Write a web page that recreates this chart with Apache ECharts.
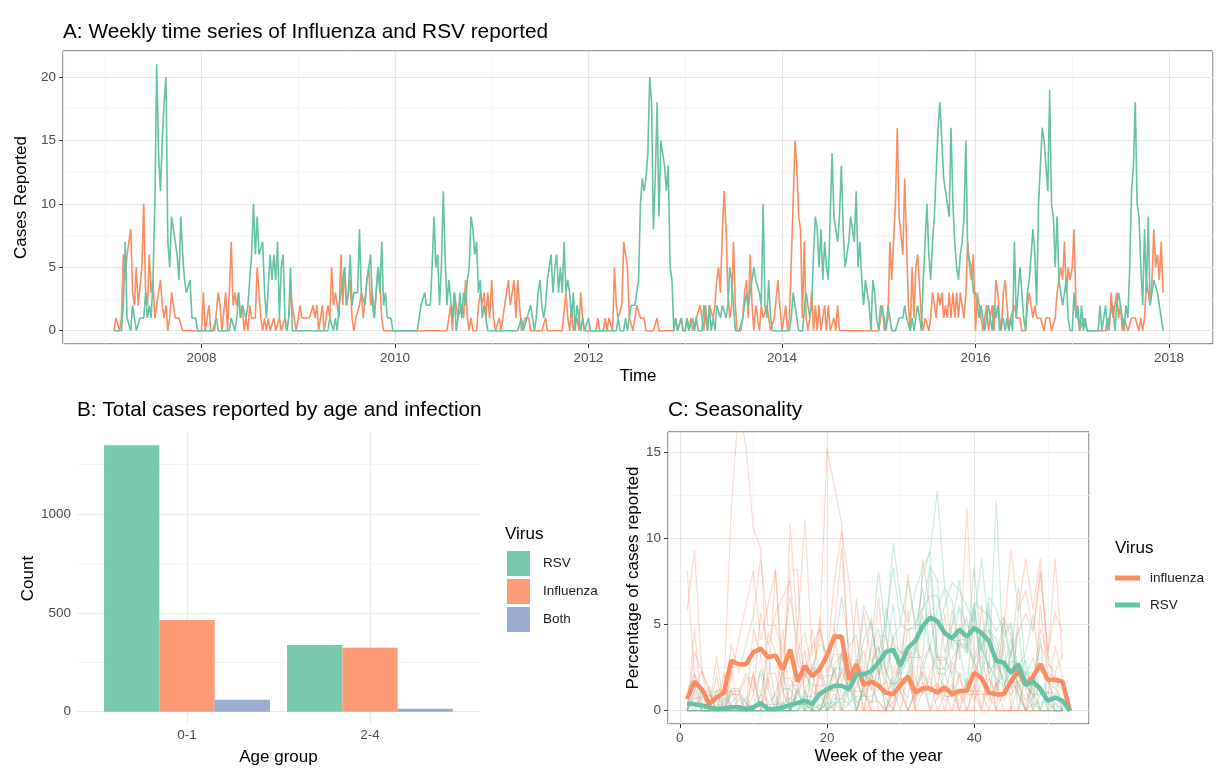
<!DOCTYPE html>
<html>
<head>
<meta charset="utf-8">
<script src="https://cdn.jsdelivr.net/npm/echarts@6/dist/echarts.min.js"></script>
<style>
html,body{margin:0;padding:0;background:#fff;}
#chart{width:1216px;height:776px;}
</style>
</head>
<body>
<div id="chart"></div>
<script>
// ---------- Panel A: weekly counts (week 1..52 of each year; null = not reported) ----------
const years = [2007, 2008, 2009, 2010, 2011, 2012, 2013, 2014, 2015, 2016, 2017];

const rsv2007 = [null,null,null,null,null,0,0,0,0,0,2,7,1, 1,0,2,1,0,0,1,1,1,3,1,2,1, 4,10,21,14,11,15,18,20,7,5,9,8,8, 6,4,9,6,4,3,3,4,1,1,1,0,0];
const rsv2008 = [0,0,0,0,0,0,0,0,1,0,0,0,0, 0,0,0,1,1,0,1,3,1,2,2,1,2, 4,6,10,6,9,6,6,7,3,1,1,6,4, 6,4,7,1,5,6,1,0,1,5,0,0,0];
const rsv2009 = [0,0,0,0,0,0,0,0,0,0,0,0,0, 0,0,0,0,1,1,0,1,0,2,2,4,5, 2,3,6,2,3,3,3,8,3,3,2,4,4, 6,2,1,3,5,3,7,2,3,1,1,1,0];
const rsv2010 = [0,0,0,0,0,0,0,0,0,0,0,0,0, 0,2,2,3,2,2,2,5,9,5,6,2,5, 11,6,2,4,4,1,3,0,1,3,1,3,2, 4,5,9,8,6,7,3,4,1,2,1,0,0];
const rsv2011 = [0,0,0,0,0,0,0,0,0,0,0,0,0, 0,0,0,1,0,0,1,1,2,2,0,1,3, 4,2,1,2,4,4,6,3,5,6,3,5,3, 7,3,4,3,1,3,0,2,1,0,1,0,0];
const rsv2012 = [1,0,0,0,0,0,0,0,0,0,0,0,0, 0,0,0,1,0,0,0,1,0,1,2,2,2, 3,4,10,12,11,12,14,20,18,8,12,18,9, 15,14,13,11,13,5,4,0,1,0,0,1,0];
const rsv2013 = [0,1,0,0,1,0,1,0,0,0,2,1,0, 2,0,1,0,2,2,1,2,2,1,2,5,4, 2,0,0,0,0,1,2,3,2,2,4,5,4, 4,3,2,10,2,1,4,1,0,0,0,0,0];
const rsv2014 = [0,0,0,0,0,1,3,3,1,0,0,0,0, 3,3,1,2,6,9,8,5,8,4,7,5,4, 4,14,9,8,7,9,13,8,5,5,7,9,9, 7,11,5,7,4,2,4,4,2,0,4,3,1];
const rsv2015 = [0,2,2,1,0,2,1,0,0,0,0,1,1, 1,2,1,1,0,1,0,1,2,1,0,4,7, 10,6,4,7,9,9,16,18,18,12,11,11,9, 16,10,7,5,4,6,7,9,15,6,6,5,3];
const rsv2016 = [3,3,1,2,1,0,1,2,1,0,2,1,2, 0,0,1,0,1,0,1,0,7,1,3,5,3, 1,0,3,4,4,8,6,2,10,13,16,15,13, 11,19,10,9,5,9,4,3,2,2,4,1,0];
const rsv2017 = [0,3,1,2,0,2,0,1,0,0,0,0,0, 0,0,2,0,0,2,0,1,1,2,0,2,3, 2,1,0,2,1,5,11,13,18,10,9,5,2, 8,3,9,2,3,4,4,3,2,2,0,null,null];

const flu2007 = [null,null,null,null,null,0,1,1,0,1,6,4,6, 7,8,3,2,5,2,2,5,10,3,2,6,3, 4,1,2,3,4,2,1,2,0,1,3,2,1, 1,1,1,0,0,0,0,0,0,0,0,0,0];
const flu2008 = [0,3,0,0,2,0,0,0,0,3,2,0,0, 3,0,3,7,2,3,2,3,1,2,0,1,0, 2,1,1,1,5,3,1,0,1,0,1,0,0, 1,0,0,1,0,0,1,0,1,3,2,1,0];
const flu2009 = [1,2,1,1,1,1,1,1,2,1,2,0,1, 2,0,1,2,1,5,2,3,3,1,6,2,5, 2,2,4,1,0,1,1,2,3,1,1,4,5, 2,3,1,1,5,4,1,0,0,0,0,0,0];
const flu2010 = [0,0,0,0,0,0,0,0,0,0,0,0,0, 0,0,0,0,0,0,0,0,0,0,0,0,0, 0,0,0,1,2,0,3,2,1,1,2,1,4, 1,0,1,0,0,0,2,3,2,3,1,3,1];
const flu2011 = [4,1,0,0,1,0,1,2,3,4,2,3,4, 1,4,4,0,0,1,1,1,0,0,0,0,0, 0,0,0,1,0,0,0,0,0,0,0,0,0, 0,3,1,0,2,0,0,1,0,3,1,0,0];
const flu2012 = [0,0,0,0,0,1,0,0,0,1,0,1,1, 0,5,2,1,1,2,7,6,5,1,1,0,1, 2,2,1,1,1,0,0,0,0,0,0,1,0, 0,0,0,0,0,0,0,0,1,0,0,1,0];
const flu2013 = [0,1,0,1,0,0,1,1,2,2,0,2,0, 2,2,1,2,4,5,3,8,11,8,3,1,2, 7,2,0,0,0,1,3,4,1,6,2,0,2, 1,0,2,1,1,2,1,0,0,1,1,4,2];
const flu2014 = [0,1,2,0,1,1,10,15,13,9,8,1,7, 1,0,1,3,0,2,0,2,0,1,2,0,2, 0,0,1,0,2,0,0,0,0,0,0,0,0, 0,0,0,0,0,0,0,0,0,0,0,0,0];
const flu2015 = [0,0,2,0,0,1,7,4,7,10,16,9,9, 6,12,7,2,0,5,1,5,6,6,1,0,1, 1,0,1,3,3,1,3,2,3,1,2,1,3, 1,3,1,3,1,3,3,1,3,7,5,4,6];
const flu2016 = [0,3,2,1,0,0,2,0,0,2,0,4,3, 1,0,3,4,2,0,1,1,2,1,1,1,0, 0,0,2,3,3,1,2,1,1,1,1,0,1, 1,1,0,0,1,3,4,5,4,7,3,5,4];
const flu2017 = [5,8,2,1,0,0,1,1,0,0,0,0,0, 0,0,0,0,0,0,1,0,3,1,2,3,1, 2,0,1,1,0,0,1,1,1,1,0,1,0, 1,4,4,2,4,8,5,6,4,7,3,null,null];

const rsvByYear = [rsv2007, rsv2008, rsv2009, rsv2010, rsv2011, rsv2012, rsv2013, rsv2014, rsv2015, rsv2016, rsv2017];
const fluByYear = [flu2007, flu2008, flu2009, flu2010, flu2011, flu2012, flu2013, flu2014, flu2015, flu2016, flu2017];

// ---------- Panel B: totals by age group ----------
const ageGroups = ['0-1', '2-4'];
const totalRSV = [1348, 337];
const totalInfluenza = [464, 323];
const totalBoth = [60, 15];

// ---------- Panel C: mean weekly percentage (thick lines), weeks 1..53 ----------
const meanInfluenza = [0.67,1.7,1.25,0.4,0.77,1.05,2.9,2.7,2.7,3.4,3.6,3.1,3.2,2.4,3.55,1.7,2.6,2.0,2.4,3.2,4.3,4.3,1.8,2.7,1.5,1.7,1.45,1.05,0.96,1.5,2.0,1.05,1.3,1.3,1.05,1.35,0.96,1.15,1.15,2.2,1.9,1.05,0.96,0.96,1.7,2.3,1.5,2.0,2.7,1.8,1.8,1.7,0];
const meanRSV = [0.44,0.38,0.3,0.2,0.1,0.13,0.2,0.2,0.1,0.2,0.45,0.1,0.1,0.2,0.33,0.44,0.58,0.4,0.96,1.25,1.45,1.45,1.25,2.1,2.1,2.3,2.8,3.4,3.55,2.6,3.65,4.05,4.9,5.4,5.2,4.5,4.2,4.7,4.3,4.8,4.5,4.05,2.9,2.8,2.2,2.7,1.5,1.7,1.25,0.58,0.77,0.58,0];

// ---------- styling ----------
const FONT = '"Liberation Sans", Arial, Helvetica, sans-serif';
const colRSV = '#66c2a5', colFlu = '#fc8d62', colBoth = '#8da0cb';
const tickCol = '#4d4d4d';
const majorGrid = '#e6e6e6', minorGrid = '#f2f2f2';

// ---------- build series data ----------
const toDecimalYear = (y, w) => y + (w - 1) * 7 / 365.25;
function weeklySeries(byYear) {
  const out = [];
  years.forEach((y, i) => byYear[i].forEach((v, k) => { if (v !== null) out.push([toDecimalYear(y, k + 1), v]); }));
  return out;
}
function yearPercent(arr) {
  const total = arr.reduce((s, v) => s + (v || 0), 0);
  const out = [];
  arr.forEach((v, k) => { if (v !== null && total > 0) out.push([k + 1, v / total * 100]); });
  return out;
}

const series = [];
series.push({ type: 'line', name: 'A_Influenza', xAxisIndex: 0, yAxisIndex: 0, data: weeklySeries(fluByYear),
  symbol: 'none', clip: false, lineStyle: { width: 1.6, color: colFlu }, itemStyle: { color: colFlu }, z: 3 });
series.push({ type: 'line', name: 'A_RSV', xAxisIndex: 0, yAxisIndex: 0, data: weeklySeries(rsvByYear),
  symbol: 'none', clip: false, lineStyle: { width: 1.6, color: colRSV }, itemStyle: { color: colRSV }, z: 4 });

[['B_RSV', totalRSV, colRSV], ['B_Influenza', totalInfluenza, colFlu], ['B_Both', totalBoth, colBoth]].forEach(([n, d, c]) => {
  series.push({ type: 'bar', name: n, xAxisIndex: 2, yAxisIndex: 2, data: d, barGap: '0%', barCategoryGap: '9.3%',
    itemStyle: { color: c, opacity: 0.88 } });
});

years.forEach((y, i) => {
  series.push({ type: 'line', name: 'C_fl_' + y, xAxisIndex: 3, yAxisIndex: 3, data: yearPercent(fluByYear[i]), symbol: 'none', silent: true,
    lineStyle: { width: 1.2, color: colFlu, opacity: 0.32 }, z: 2 });
});
years.forEach((y, i) => {
  series.push({ type: 'line', name: 'C_rs_' + y, xAxisIndex: 3, yAxisIndex: 3, data: yearPercent(rsvByYear[i]), symbol: 'none', silent: true,
    lineStyle: { width: 1.2, color: colRSV, opacity: 0.32 }, z: 2 });
});
const weeksC = meanInfluenza.map((_, i) => i + 1);
series.push({ type: 'line', name: 'C_influenza', xAxisIndex: 3, yAxisIndex: 3, data: weeksC.map((w, i) => [w, meanInfluenza[i]]),
  symbol: 'none', lineStyle: { width: 4.5, color: colFlu }, itemStyle: { color: colFlu }, z: 5 });
series.push({ type: 'line', name: 'C_RSV', xAxisIndex: 3, yAxisIndex: 3, data: weeksC.map((w, i) => [w, meanRSV[i]]),
  symbol: 'none', lineStyle: { width: 4.5, color: colRSV }, itemStyle: { color: colRSV }, z: 6 });

const titleStyle = { fontSize: 20.8, fontWeight: 'normal', color: '#000', fontFamily: FONT };
const nameStyle = { fontSize: 17, color: '#000', fontFamily: FONT };
const labelStyle = { fontSize: 13.5, color: tickCol, fontFamily: FONT };

function valueAxis(extra) {
  return Object.assign({
    type: 'value',
    axisLine: { show: false, onZero: false },
    axisTick: { show: true, length: 4, lineStyle: { color: '#333', width: 1 } },
    axisLabel: Object.assign({ showMinLabel: false, showMaxLabel: false, margin: 7, formatter: v => String(v) }, labelStyle),
    splitLine: { show: true, lineStyle: { color: majorGrid, width: 1.2 } },
    minorTick: { show: false, splitNumber: 2 },
    minorSplitLine: { show: true, lineStyle: { color: minorGrid, width: 0.8 } },
    nameLocation: 'middle',
    nameTextStyle: nameStyle
  }, extra);
}

const option = {
  animation: false,
  backgroundColor: '#ffffff',
  textStyle: { fontFamily: FONT },
  title: [
    { text: 'A: Weekly time series of Influenza and RSV reported', left: 63, top: 22, padding: 0, textStyle: titleStyle },
    { text: 'B: Total cases reported by age and infection', left: 77, top: 400, padding: 0, textStyle: titleStyle },
    { text: 'C: Seasonality', left: 668, top: 400, padding: 0, textStyle: titleStyle },
    { text: 'Virus', left: 505, top: 526, padding: 0, textStyle: { fontSize: 17, fontWeight: 'normal', color: '#000' } },
    { text: 'Virus', left: 1115, top: 540, padding: 0, textStyle: { fontSize: 17, fontWeight: 'normal', color: '#000' } }
  ],
  legend: [
    { data: ['B_RSV', 'B_Influenza', 'B_Both'], left: 507, top: 551, padding: 0, orient: 'vertical', icon: 'rect', itemWidth: 23, itemHeight: 25, itemGap: 3,
      selectedMode: false, formatter: n => n.slice(2), textStyle: { fontSize: 13.5, color: '#1a1a1a', padding: [0, 0, 0, 8] } },
    { data: ['C_influenza', 'C_RSV'], left: 1115, top: 571, padding: 0, orient: 'vertical', icon: 'rect', itemWidth: 25, itemHeight: 5, itemGap: 13,
      selectedMode: false, formatter: n => n.slice(2), textStyle: { fontSize: 13.5, color: '#1a1a1a', padding: [0, 0, 0, 5] } }
  ],
  grid: [
    { left: 63, top: 51, width: 1150, height: 293, show: true, borderColor: '#333', borderWidth: 1, backgroundColor: 'rgba(0,0,0,0)' },
    { left: 77, top: 432, width: 403, height: 293 },
    { left: 95.5, top: 432, width: 366, height: 293 },
    { left: 668, top: 432, width: 421, height: 292, show: true, borderColor: '#333', borderWidth: 1, backgroundColor: 'rgba(0,0,0,0)' }
  ],
  xAxis: [
    valueAxis({ gridIndex: 0, min: 2006.568, max: 2018.455, splitNumber: 5, name: 'Time', nameGap: 24 }),
    valueAxis({ gridIndex: 1, min: 0.4, max: 2.6, splitNumber: 2, name: 'Age group', nameGap: 24,
      axisTick: { show: false },
      axisLabel: Object.assign({ showMinLabel: false, showMaxLabel: false, margin: 3, formatter: v => ageGroups[Math.round(v) - 1] || '' }, labelStyle),
      splitLine: { show: true, showMinLine: false, showMaxLine: false, lineStyle: { color: '#ebebeb', width: 1.2 } },
      minorSplitLine: { show: false } }),
    { type: 'category', gridIndex: 2, data: ageGroups, show: false },
    valueAxis({ gridIndex: 3, min: -1.6, max: 55.6, splitNumber: 3, name: 'Week of the year', nameGap: 24 })
  ],
  yAxis: [
    valueAxis({ gridIndex: 0, min: -1.05, max: 22.05, splitNumber: 5, name: 'Cases Reported', nameGap: 26 }),
    valueAxis({ gridIndex: 1, min: -67.4, max: 1415.4, splitNumber: 3, name: 'Count', nameGap: 36,
      axisTick: { show: false },
      axisLabel: Object.assign({ showMinLabel: false, showMaxLabel: false, margin: 6, formatter: v => String(v) }, labelStyle),
      splitLine: { show: true, showMinLine: false, showMaxLine: false, lineStyle: { color: '#ebebeb', width: 1.2 } },
      minorSplitLine: { show: true, lineStyle: { color: '#f3f3f3', width: 0.8 } } }),
    { type: 'value', gridIndex: 2, min: -67.4, max: 1415.4, show: false },
    valueAxis({ gridIndex: 3, min: -0.77, max: 16.17, splitNumber: 3, name: 'Percentage of cases reported', nameGap: 26 })
  ],
  series: series
};

const chart = echarts.init(document.getElementById('chart'), null, { renderer: 'canvas' });
chart.setOption(option);
</script>
</body>
</html>
